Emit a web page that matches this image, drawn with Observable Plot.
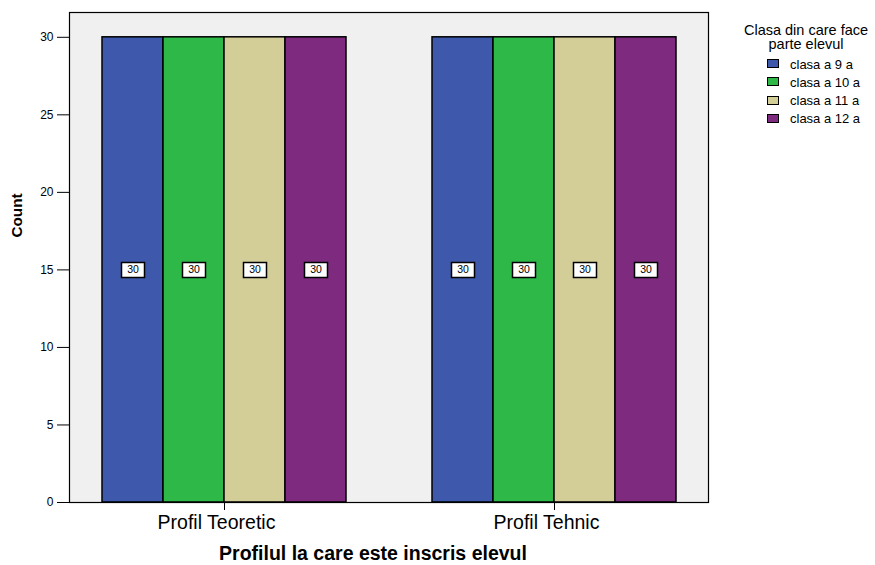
<!DOCTYPE html>
<html>
<head>
<meta charset="utf-8">
<script src="https://cdn.jsdelivr.net/npm/d3@7"></script>
<script src="https://cdn.jsdelivr.net/npm/@observablehq/plot@0.6"></script>
<style>
  html, body { margin: 0; padding: 0; background: #fff; }
  #wrap { position: relative; width: 875px; height: 565px; font-family: "Liberation Sans", Arial, sans-serif; }
  #legend { position: absolute; left: 730px; top: 23px; color: #000; }
  .lt { position: absolute; white-space: pre; text-align: center; width: 140px; font-size: 14.5px; line-height: 14px; }
  .li { position: absolute; white-space: nowrap; font-size: 13px; line-height: 15px; }
  .sw { position: absolute; width: 10px; height: 7px; border: 1.5px solid #000; }
</style>
</head>
<body>
<div id="wrap"><div id="legend"></div></div>
<script>
const profiles = ["Profil Teoretic", "Profil Tehnic"];
const classes = ["clasa a 9 a", "clasa a 10 a", "clasa a 11 a", "clasa a 12 a"];
const counts = [
  [30, 30, 30, 30],
  [30, 30, 30, 30]
];
const colors = ["#3e58ab", "#2eb848", "#d3ce97", "#7e2a7e"];
const yTicks = [0, 5, 10, 15, 20, 25, 30];
const yTitle = "Count";
const xTitle = "Profilul la care este inscris elevul";
const legendTitle = ["Clasa din care face", "parte elevul"];

const data = profiles.flatMap((p, i) => classes.map((c, j) => ({profil: p, clasa: c, count: counts[i][j]})));

const boxSymbol = { draw(ctx) { ctx.rect(-11.5, -7.5, 23, 15); } };

const chart = Plot.plot({
  width: 875,
  height: 565,
  marginLeft: 102,
  marginRight: 198,
  marginTop: 12,
  marginBottom: 63,
  style: { fontFamily: "'Liberation Sans', Arial, sans-serif", background: "transparent", color: "#000" },
  fx: { domain: profiles, paddingInner: 0.2606, paddingOuter: 0, label: null },
  x: { domain: classes, padding: 0, axis: null },
  y: { domain: [0, 31.6], label: null },
  color: { domain: classes, range: colors },
  marks: [
    Plot.frame({ fill: "#f0f0f0", facet: "super", insetLeft: -33, insetRight: -32 }),
    Plot.barY(data, { fx: "profil", x: "clasa", y: "count", fill: "clasa", stroke: "#000", strokeWidth: 1.5 }),
    Plot.dot(data, { fx: "profil", x: "clasa", y: d => d.count / 2, symbol: boxSymbol, fill: "#fff", stroke: "#000", strokeWidth: 1.5 }),
    Plot.text(data, { fx: "profil", x: "clasa", y: d => d.count / 2, text: d => String(d.count), fontSize: 10.5, fill: "#000" }),
    Plot.axisY({ ticks: yTicks, tickSize: 12, tickPadding: 4, fontSize: 12, label: null, stroke: "#000", dx: -33 }),
    Plot.axisFx({ tickSize: 8, tickFormat: () => "", label: null, anchor: "bottom" }),
    Plot.axisFx({ tickSize: 0, tickPadding: 13, fontSize: 19.5, label: null, anchor: "bottom", dx: -8 }),
    Plot.frame({ stroke: "#000", strokeWidth: 1.2, facet: "super", insetLeft: -33, insetRight: -32 }),
    Plot.text([yTitle], { frameAnchor: "left", textAnchor: "middle", lineAnchor: "middle", rotate: -90, dx: -85, dy: -42, fontWeight: "bold", fontSize: 15.3, facet: "super" }),
    Plot.text([xTitle], { frameAnchor: "bottom", textAnchor: "middle", lineAnchor: "middle", dx: -16.5, dy: 51, fontWeight: "bold", fontSize: 19.5, facet: "super" })
  ]
});
document.getElementById("wrap").prepend(chart);

const legend = d3.select("#legend");
legend.append("div").attr("class", "lt").style("left", "6px").style("top", "0px").text(legendTitle.join("\n"));
classes.forEach((c, i) => {
  legend.append("div").attr("class", "sw").style("left", "37px").style("top", `${36 + i * 18.3}px`).style("background", colors[i]);
  legend.append("div").attr("class", "li").style("left", "60px").style("top", `${33.5 + i * 18.3}px`).text(c);
});
</script>
</body>
</html>
